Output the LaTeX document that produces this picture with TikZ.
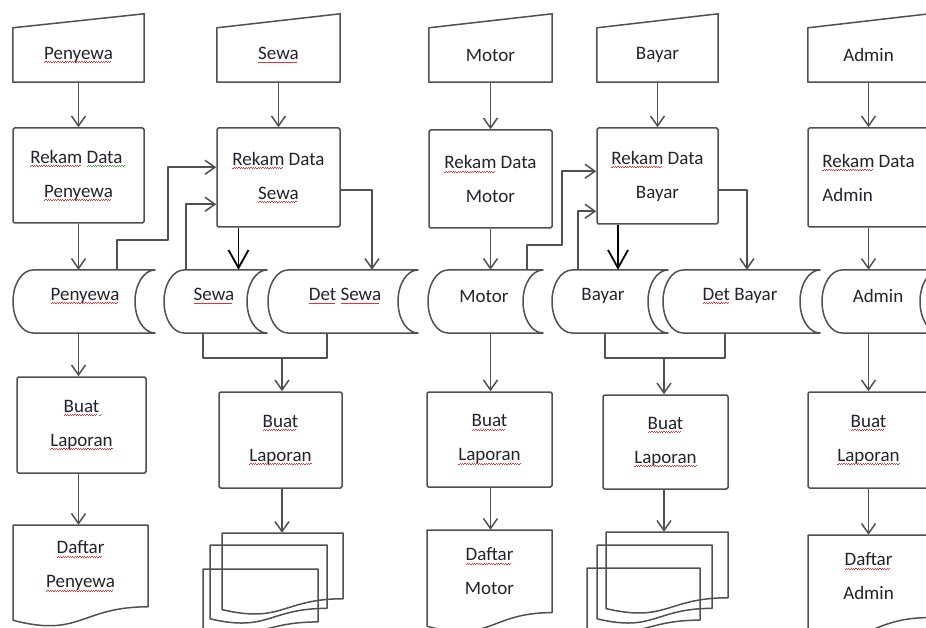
\documentclass[tikz,border=0pt]{standalone}
\usepackage{fontspec}
\setmainfont{Carlito}
\usetikzlibrary{arrows.meta,calc}

\definecolor{ln}{RGB}{80,80,80}
\definecolor{tx}{RGB}{35,35,45}
\definecolor{spr}{RGB}{232,50,50}
\definecolor{spg}{RGB}{70,165,70}

\newcommand\lbl{\fontsize{19}{34}\selectfont}

% spell-check style wavy underline below a word
\newsavebox\wordbox
\newcommand\squig[2]{\sbox\wordbox{#2}\leavevmode\usebox\wordbox\llap{\color{#1}\raisebox{-4pt}{\hbox to \wd\wordbox{\leaders\hbox to 2.4pt{\vrule width 1.2pt height 0.8pt\raise0.8pt\hbox{\vrule width 1.2pt height 0.8pt}}\hfill}}}}
\newcommand\sq[1]{\squig{spr}{#1}}
\newcommand\gq[1]{\squig{spg}{#1}}

\tikzset{
  flow/.style={draw=ln, line width=1.5pt, line join=round},
  arr/.style={flow, -{Straight Barb[length=10pt,width=14pt]}},
  bigarr/.style={draw=black, line width=1.8pt, -{Straight Barb[length=18pt,width=20pt]}},
  proc/.style={flow, rounded corners=1.5pt, inner sep=0pt, font=\lbl, align=center, text=tx},
  txt/.style={inner sep=0pt, font=\lbl, align=center, text=tx},
  mbox/.style={inner sep=0pt, minimum height=54pt, font=\lbl, text=tx},
}

% manual input: box with a slanted top edge
\newcommand\manin[4]{%
  \node[mbox, minimum width={#3-#2}] (#1) at ({(#2+#3)/2},55) {#4};
  \draw[flow] (#1.south west) -- (#1.north west) -- ([yshift=14pt]#1.north east) -- (#1.south east) -- cycle;}

% stored data: convex left end, concave right end
\newcommand\store[5]{%
  \node[inner sep=0pt, minimum width={#3-#2}, minimum height=63pt] (#1) at ({(#2+#3)/2},301.5) {};
  \draw[flow] (#2+20,270) -- (#3,270)
     .. controls (#3-11,270) and (#3-20,284) .. (#3-20,301.5)
     .. controls (#3-20,319) and (#3-11,333) .. (#3,333)
     -- (#2+20,333)
     .. controls (#2+9,333) and (#2,319) .. (#2,301.5)
     .. controls (#2,284) and (#2+9,270) .. cycle;
  \node[txt] (#1-l) at (#4,296) {#5};}

% document with wavy bottom edge
\newcommand\docshape[4]{%
  \draw[flow] (#1,#3) -- (#2,#3) -- (#2,{#3+0.802*#4})
     .. controls ({(#1+#2)/2},{#3+0.802*#4}) and ({(#1+#2)/2},{#3+1.108*#4}) .. (#1,{#3+0.934*#4}) -- cycle;}

\begin{document}
\begin{tikzpicture}[x=1pt,y=-1pt]
\useasboundingbox (0,0) rectangle (926,628);
\fill[white] (0,0) rectangle (926,628);

% ---- input forms
\manin{mA}{13}{144}{\sq{Penyewa}}
\manin{mB}{217}{340}{\sq{Sewa}}
\manin{mC}{429}{552}{Motor}
\manin{mD}{597}{718}{Bayar}
\manin{mE}{808}{929}{Admin}

% ---- record processes
\node[proc, minimum width=131pt, minimum height=95pt] (pA) at (78.5,175.5) {\sq{Rekam} \gq{Data\ }\\\sq{Penyewa}};
\node[proc, minimum width=123pt, minimum height=99pt] (pB) at (278.5,177.5) {\sq{Rekam} Data\\\sq{Sewa}};
\node[proc, minimum width=123pt, minimum height=98pt] (pC) at (490.5,179) {\sq{Rekam} Data\\Motor};
\node[proc, minimum width=121pt, minimum height=96pt] (pD) at (657.5,176) {\sq{Rekam} Data\\Bayar};
\node[proc, minimum width=121pt, minimum height=99pt, align=left] (pE) at (868.5,177.5) {\sq{Rekam} Data\\Admin};

% ---- data stores
\store{sA}{13}{155}{85}{\sq{Penyewa}}
\store{sB}{164}{267}{214}{\sq{Sewa}}
\store{sDS}{268}{418}{345}{\sq{Det} \sq{Sewa}}
\store{sC}{428}{543}{484}{Motor}
\store{sD}{552}{668}{603}{Bayar}
\store{sDB}{663}{820}{740}{\sq{Det} Bayar}
\store{sE}{822}{940}{878}{Admin}

% ---- report processes
\node[proc, minimum width=129pt, minimum height=96pt] (lA) at (81.5,425) {\sq{Buat}\rlap{\gq{\ }}\\\sq{Laporan}};
\node[proc, minimum width=123pt, minimum height=96pt] (lB) at (280.5,440) {\sq{Buat}\\\sq{Laporan}};
\node[proc, minimum width=125pt, minimum height=95pt] (lC) at (489.5,439.5) {\sq{Buat}\\\sq{Laporan}};
\node[proc, minimum width=125pt, minimum height=94pt] (lD) at (665.5,442) {\sq{Buat}\\\sq{Laporan}};
\node[proc, minimum width=121pt, minimum height=96pt] (lE) at (868.5,440) {\sq{Buat}\\\sq{Laporan}};

% ---- output documents
\node[txt, minimum width=135pt, minimum height=82pt] (dA) at (80.5,566) {\sq{Daftar}\\\sq{Penyewa}};
\docshape{13}{148}{525}{102}
\node[txt, minimum width=125pt, minimum height=82.6pt] (dC) at (489.5,571.3) {\sq{Daftar}\\Motor};
\docshape{427}{552}{530}{103}
\node[txt, minimum width=121pt, minimum height=82.6pt] (dE) at (868.5,576.3) {\sq{Daftar}\\Admin};
\docshape{808}{929}{535}{103}

% ---- multi-page reports
\node[inner sep=0pt, minimum width=121pt, minimum height=66pt] (mdB) at (282.5,566) {};
\docshape{222}{343}{533}{82}
\docshape{210}{327}{545}{79}
\docshape{203}{318}{569}{66}
\node[inner sep=0pt, minimum width=122pt, minimum height=66pt] (mdD) at (667,565) {};
\docshape{606}{728}{532}{82}
\docshape{597}{712}{545}{79}
\docshape{587}{700}{568}{65}

% ---- Penyewa flow
\draw[arr] (mA.south) -- (pA.north);
\draw[arr] (pA.south) -- (pA.south |- sA.north);
\draw[arr] (pA.south |- sA.south) -- (pA.south |- lA.north);
\draw[arr] (pA.south |- lA.south) -- (pA.south |- dA.north);

% ---- Sewa flow
\draw[arr] (mB.south) -- (pB.north);
\draw[bigarr] ($(pB.south)+(-40,0)$) -- ($(pB.south |- sB.north)+(-40,0)$);
\draw[arr] ($(pB.east)+(0,12.5)$) -| ($(sDS.north)+(29,0)$);
\draw[arr] ($(sA.north)+(33,0)$) -- ++(0,-30) -- ++(51,0) |- ($(pB.north west)+(0,40)$);
\draw[arr] ($(sB.north)+(-29.5,0)$) |- ($(pB.north west)+(0,77)$);
\draw[flow] ($(sB.south)+(-12.5,0)$) -- ++(0,25) -| ($(sDS.south)+(-16,0)$);
\coordinate (jB) at ($(sB.south)+(66.5,25)$);
\draw[arr] (jB) -- (jB |- lB.north);
\draw[arr] (jB |- lB.south) -- (jB |- mdB.north);

% ---- Motor flow
\draw[arr] (mC.south) -- (pC.north);
\draw[arr] (pC.south) -- (pC.south |- sC.north);
\draw[arr] (pC.south |- sC.south) -- (pC.south |- lC.north);
\draw[arr] (pC.south |- lC.south) -- (pC.south |- dC.north);
\draw[arr] ($(sC.north)+(41.5,0)$) -- ++(0,-25) -- ++(35,0) |- ($(pD.north west)+(0,44)$);
\draw[arr] ($(sD.north)+(-32,0)$) |- ($(pD.north west)+(0,84)$);

% ---- Bayar flow
\draw[arr] (mD.south) -- (pD.north);
\draw[bigarr] ($(pD.south)+(-39.5,0)$) -- ($(pD.south |- sD.north)+(-39.5,0)$);
\draw[arr] ($(pD.east)+(0,14)$) -| ($(sDB.north)+(5.5,0)$);
\draw[flow] ($(sD.south)+(-5,0)$) -- ++(0,25) -| ($(sDB.south)+(-16.5,0)$);
\coordinate (jD) at ($(sD.south)+(54,25)$);
\draw[arr] (jD) -- (jD |- lD.north);
\draw[arr] (jD |- lD.south) -- (jD |- mdD.north);

% ---- Admin flow
\draw[arr] (mE.south) -- (pE.north);
\draw[arr] (pE.south) -- (pE.south |- sE.north);
\draw[arr] (pE.south |- sE.south) -- (pE.south |- lE.north);
\draw[arr] (pE.south |- lE.south) -- (pE.south |- dE.north);
\end{tikzpicture}
\end{document}
